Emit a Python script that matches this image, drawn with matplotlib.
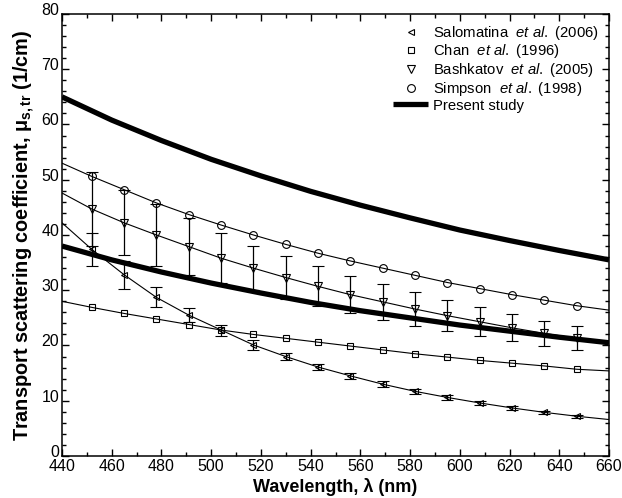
import matplotlib.pyplot as plt
from matplotlib.ticker import MultipleLocator
from matplotlib.transforms import ScaledTranslation

# wavelengths of the measured points (nm)
wl = [452, 465, 478, 491, 504, 517, 530, 543, 556, 569, 582, 595, 608, 621, 634, 647]

# Salomatina et al. (2006)
salo = [37.4, 32.8, 28.7, 25.5, 22.8, 20.1, 18.0, 16.1, 14.5, 13.0, 11.7, 10.6, 9.6, 8.7, 7.9, 7.2]
salo_err = [3.0, 2.5, 1.8, 1.3, 1.0, 0.9, 0.7, 0.6, 0.5, 0.5, 0.4, 0.4, 0.35, 0.3, 0.3, 0.3]
salo_ends = [42.2, 6.6]

# Chan et al. (1996)
chan = [26.9, 25.8, 24.8, 23.8, 22.8, 22.0, 21.3, 20.6, 19.9, 19.2, 18.5, 17.9, 17.3, 16.8, 16.3, 15.7]
chan_ends = [28.0, 15.4]

# Bashkatov et al. (2005)
bash = [44.7, 42.2, 40.0, 37.9, 35.8, 34.0, 32.3, 30.7, 29.2, 27.9, 26.6, 25.4, 24.3, 23.2, 22.2, 21.3]
bash_err = [6.7, 5.9, 5.6, 5.1, 4.5, 4.0, 3.9, 3.6, 3.4, 3.2, 3.0, 2.75, 2.6, 2.45, 2.3, 2.15]
bash_ends = [47.6, 20.4]

# Simpson et al. (1998)
simp = [50.6, 48.2, 45.8, 43.7, 41.8, 40.0, 38.3, 36.7, 35.3, 34.0, 32.7, 31.4, 30.3, 29.2, 28.2, 27.2]
simp_ends = [53.0, 26.4]

# present study, upper and lower bounds
wl_fit = [440, 460, 480, 500, 520, 540, 560, 580, 600, 620, 640, 660]
upper = [65.0, 60.8, 57.1, 53.7, 50.7, 47.9, 45.4, 43.1, 40.9, 39.0, 37.2, 35.5]
lower = [38.0, 35.5, 33.3, 31.3, 29.5, 27.8, 26.3, 25.0, 23.7, 22.6, 21.5, 20.5]

plt.rcParams['font.family'] = ['Liberation Sans', 'DejaVu Sans']
plt.rcParams['mathtext.fontset'] = 'custom'
plt.rcParams['mathtext.rm'] = 'Liberation Sans'
plt.rcParams['mathtext.it'] = 'Liberation Sans:italic'
plt.rcParams['mathtext.bf'] = 'Liberation Sans:bold'

fig = plt.figure(figsize=(6.22, 4.98), dpi=100)
ax = fig.add_axes([62 / 622, 42 / 498, 547 / 622, 442 / 498])

def with_ends(vals, ends):
    return [440] + wl + [660], [ends[0]] + vals + [ends[1]]

lw_thin = 0.8
ms = 5.0

# thin curves through the data
for vals, ends in [(salo, salo_ends), (chan, chan_ends), (bash, bash_ends), (simp, simp_ends)]:
    x, y = with_ends(vals, ends)
    ax.plot(x, y, color='black', lw=lw_thin, zorder=2)

# present study
ax.plot(wl_fit, upper, color='black', lw=3.8, zorder=3, solid_capstyle='butt')
ax.plot(wl_fit, lower, color='black', lw=3.8, zorder=3, solid_capstyle='butt')

# markers and error bars
ax.errorbar(wl, salo, yerr=salo_err, fmt='<', ms=ms, mfc='none', mec='black', mew=0.8,
            ecolor='black', elinewidth=0.9, capsize=4.3, capthick=0.9, zorder=4)
ax.plot(wl, chan, 's', ms=ms - 0.8, mfc='none', mec='black', mew=0.8, zorder=4)
ax.errorbar(wl, bash, yerr=bash_err, fmt='v', ms=ms + 0.3, mfc='none', mec='black', mew=0.8,
            ecolor='black', elinewidth=0.9, capsize=4.3, capthick=0.9, zorder=4)
ax.plot(wl, simp, 'o', ms=ms + 0.6, mfc='none', mec='black', mew=0.8, zorder=4)

# legend handles
h1, = ax.plot([], [], '<', ms=ms, mfc='none', mec='black', mew=0.8)
h2, = ax.plot([], [], 's', ms=ms - 0.8, mfc='none', mec='black', mew=0.8)
h3, = ax.plot([], [], 'v', ms=ms + 0.3, mfc='none', mec='black', mew=0.8)
h4, = ax.plot([], [], 'o', ms=ms + 0.6, mfc='none', mec='black', mew=0.8)
h5, = ax.plot([], [], color='black', lw=3.8, solid_capstyle='butt')
labels = [r'Salomatina  $\mathit{et\ al.}$ (2006)',
          r'Chan  $\mathit{et\ al.}$ (1996)',
          r'Bashkatov  $\mathit{et\ al.}$ (2005)',
          r'Simpson  $\mathit{et\ al.}$ (1998)',
          'Present study']
ax.legend([h1, h2, h3, h4, h5], labels, loc='upper right', frameon=False,
          fontsize=10.7, handlelength=2.4, handletextpad=0.3, labelspacing=0.05,
          borderaxespad=0, borderpad=0, bbox_to_anchor=(0.981, 0.978))

ax.set_xlim(440, 660)
ax.set_ylim(0, 80)
ax.xaxis.set_major_locator(MultipleLocator(20))
ax.xaxis.set_minor_locator(MultipleLocator(10))
ax.yaxis.set_major_locator(MultipleLocator(10))
ax.yaxis.set_minor_locator(MultipleLocator(2))
ax.tick_params(which='both', direction='in', top=True, right=True, width=1.0, labelsize=11.5)
ax.tick_params(which='major', length=5, pad=2)
ax.tick_params(which='minor', length=3)
for s in ax.spines.values():
    s.set_linewidth(1.1)

# y tick labels sit a touch high in the original
shift = ScaledTranslation(0, 5 / 100, fig.dpi_scale_trans)
for lab in ax.get_yticklabels():
    lab.set_transform(lab.get_transform() + shift)

ax.set_xlabel('Wavelength, λ (nm)', fontsize=13, fontweight='bold', labelpad=3)
ax.set_ylabel(r'Transport scattering coefficient, μ$_{\mathbf{s,tr}}$ (1/cm)',
              fontsize=14.3, fontweight='bold', labelpad=3)

fig.savefig('out.png', dpi=100)
